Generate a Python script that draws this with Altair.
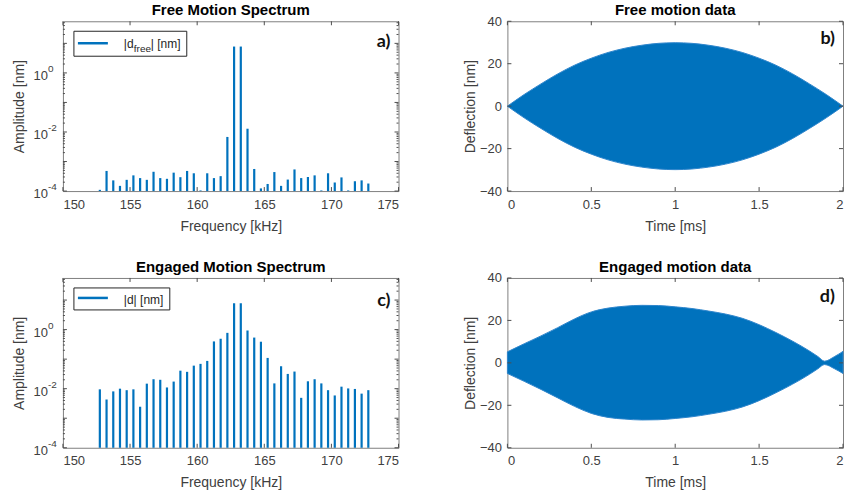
import altair as alt
import pandas as pd

BLUE = "#0072BD"
FONT = "Liberation Sans"
TEXT_GRAY = "#404040"
TICK_GRAY = "#4d4d4d"
W, H = 336, 170

# ---- spectrum data (kHz, nm) ----
freq_khz = [152.75, 153.25, 153.75, 154.25, 154.75, 155.25, 155.75, 156.25, 156.75, 157.25,
            157.75, 158.25, 158.75, 159.25, 159.75, 160.25, 160.75, 161.25, 161.75, 162.25,
            162.75, 163.25, 163.75, 164.25, 164.75, 165.25, 165.75, 166.25, 166.75, 167.25,
            167.75, 168.25, 168.75, 169.25, 169.75, 170.25, 170.75, 171.25, 171.75, 172.25,
            172.75]

free_amp = [1.1e-4, 4.8e-4, 2.3e-4, 1.5e-4, 2.4e-4, 3.4e-4, 2.75e-4, 2.4e-4, 4.5e-4, 2.75e-4,
            2.6e-4, 4.2e-4, 2.95e-4, 4.8e-4, 4.0e-4, 1.05e-4, 4.0e-4, 2.75e-4, 3.2e-4, 6.8e-3,
            7.8, 7.8, 1.29e-2, 5.6e-4, 1.23e-4, 1.74e-4, 4.4e-4, 1.5e-4, 2.45e-4, 5.4e-4,
            2.75e-4, 3.0e-4, 3.4e-4, 1.05e-4, 4.0e-4, 1.95e-4, 2.9e-4, 1.05e-4, 2.15e-4, 2.3e-4,
            1.8e-4]

engaged_amp = [0.0095, 0.0043, 0.0081, 0.0100, 0.0089, 0.0095, 0.00245, 0.0148, 0.0209, 0.0200,
               0.0110, 0.0174, 0.0407, 0.0372, 0.0603, 0.0692, 0.0871, 0.398, 0.490, 0.776,
               7.8, 7.8, 0.933, 0.537, 0.389, 0.110, 0.0151, 0.0575, 0.0316, 0.0380,
               0.0049, 0.0178, 0.0209, 0.0151, 0.0089, 0.0059, 0.0117, 0.0102, 0.0098, 0.0068,
               0.0089]

# ---- time-domain envelopes (ms, nm) ----
free_t = [0.0, 0.1, 0.2, 0.3, 0.4, 0.5, 0.6, 0.7, 0.8, 0.9, 1.0,
          1.1, 1.2, 1.3, 1.4, 1.5, 1.6, 1.7, 1.8, 1.9, 2.0]
free_upper = [0.0, 5.5, 10.5, 15.2, 19.3, 22.6, 25.3, 27.3, 28.7, 29.6, 29.9,
              29.6, 28.7, 27.3, 25.3, 22.6, 19.3, 15.2, 10.5, 5.5, 0.0]
free_lower = [0.0, -5.5, -10.5, -15.2, -19.3, -22.6, -25.3, -27.3, -28.7, -29.6, -29.9,
              -29.6, -28.7, -27.3, -25.3, -22.6, -19.3, -15.2, -10.5, -5.5, 0.0]

eng_t = [0.0, 0.1, 0.2, 0.3, 0.4, 0.5, 0.6, 0.7, 0.8, 0.9, 1.0, 1.1, 1.2,
         1.3, 1.4, 1.5, 1.6, 1.7, 1.8, 1.85, 1.89, 1.95, 2.0]
eng_upper = [5.2, 9.0, 12.7, 16.6, 20.7, 24.0, 25.8, 26.7, 27.1, 27.0, 26.4, 25.6, 24.4,
             23.0, 21.0, 18.0, 14.3, 10.2, 5.6, 3.0, 0.8, 3.0, 5.4]
eng_lower = [-5.0, -8.7, -12.5, -16.5, -20.5, -23.8, -25.7, -26.5, -26.9, -26.8, -26.2, -25.4, -24.2,
             -22.8, -20.8, -17.8, -14.1, -10.0, -5.4, -2.8, -0.8, -2.8, -5.0]

# ---- axis ticks ----
freq_ticks = [150, 155, 160, 165, 170, 175]
amp_label_values = [1e-4, 1e-2, 1.0]
amp_label_exps = ["-4", "-2", "0"]
amp_decades = [1e-4, 1e-3, 1e-2, 1e-1, 1.0, 10.0]
amp_minor = [m * d for d in [1e-4, 1e-3, 1e-2, 1e-1, 1.0, 10.0] for m in range(2, 10)
             if m * d < 56.0]
time_ticks = [0, 0.5, 1, 1.5, 2]
defl_ticks = [-40, -20, 0, 20, 40]

ONE = pd.DataFrame({"k": [0]})


def heading(text):
    # panel heading drawn just above the frame
    return alt.Chart(ONE).mark_text(align="center", baseline="alphabetic", font=FONT,
                                    fontWeight="bold", fontSize=15, color="black").encode(
        x=alt.value(W / 2), y=alt.value(-6), text=alt.value(text))


def tag(letter, y):
    return alt.Chart(ONE).mark_text(align="right", baseline="middle", font="Lato",
                                    fontWeight="bold", fontSize=18, color="#111111").encode(
        x=alt.value(W - 8), y=alt.value(y), text=alt.value(letter))


def x_ticks(values, xenc):
    df = pd.DataFrame({"t": values})
    base = alt.Chart(df).mark_rule(color=TICK_GRAY, strokeWidth=1)
    bottom = base.encode(x=xenc("t:Q"), y=alt.value(H), y2=alt.value(H - 4))
    top = base.encode(x=xenc("t:Q"), y=alt.value(0), y2=alt.value(4))
    return [bottom, top]


def y_ticks(values, yenc, length):
    df = pd.DataFrame({"v": values})
    base = alt.Chart(df).mark_rule(color=TICK_GRAY, strokeWidth=1)
    left = base.encode(y=yenc("v:Q"), x=alt.value(0), x2=alt.value(length))
    right = base.encode(y=yenc("v:Q"), x=alt.value(W - length), x2=alt.value(W))
    return [left, right]


def spectrum_panel(amps, name, legend_parts, box_w, box_h, line_y, letter, letter_y):
    df = pd.DataFrame({"f": freq_khz, "amp": amps})
    xs = alt.Scale(domain=[150, 175], nice=False)
    ys = alt.Scale(type="log", domain=[1e-4, 56.0], nice=False)
    xax = alt.Axis(values=freq_ticks, title="Frequency [kHz]", labelPadding=7,
                   titleX=W / 2, titleY=35, titleBaseline="middle")
    yax = alt.Axis(labels=False, values=amp_label_values, title="Amplitude [nm]",
                   titleX=-43, titleY=H / 2, titleAlign="center", titleBaseline="middle",
                   titleAngle=270)

    def xenc(f):
        return alt.X(f, scale=xs, axis=xax)

    def yenc(f):
        return alt.Y(f, scale=ys, axis=yax)

    bars = alt.Chart(df).mark_rule(color=BLUE, strokeWidth=2.2).encode(
        x=xenc("f:Q"), y=yenc("amp:Q"), y2=alt.datum(1e-4))
    lab_df = pd.DataFrame({"v": amp_label_values, "e": amp_label_exps})
    tens = alt.Chart(lab_df).mark_text(align="right", baseline="middle", dy=3, font=FONT,
                                       fontSize=13, color=TEXT_GRAY).encode(
        x=alt.value(-15), y=yenc("v:Q"), text=alt.value("10"))
    exps = alt.Chart(lab_df).mark_text(align="left", baseline="middle", dy=-4, font=FONT,
                                       fontSize=10, color=TEXT_GRAY).encode(
        x=alt.value(-15), y=yenc("v:Q"), text="e:N")
    box = alt.Chart(ONE).mark_rect(fill="white", stroke="#262626", strokeWidth=1).encode(
        x=alt.value(11), x2=alt.value(11 + box_w), y=alt.value(10), y2=alt.value(10 + box_h))
    sample = alt.Chart(ONE).mark_rule(color=BLUE, strokeWidth=2.5).encode(
        x=alt.value(15), x2=alt.value(45), y=alt.value(line_y))
    texts = []
    for txt, px, py, size in legend_parts:
        texts.append(alt.Chart(ONE).mark_text(align="left", baseline="middle", font=FONT,
                                              fontSize=size, color="#262626").encode(
            x=alt.value(px), y=alt.value(py), text=alt.value(txt)))
    layers = [bars, tens, exps] + x_ticks(freq_ticks, xenc) + y_ticks(amp_decades, yenc, 4) \
        + y_ticks(amp_minor, yenc, 2) + [box, sample] + texts \
        + [tag(letter, letter_y), heading(name)]
    return alt.layer(*layers).properties(width=W, height=H)


def time_panel(t, upper, lower, name, letter, letter_y):
    df = pd.DataFrame({"t": t, "hi": upper, "lo": lower})
    xs = alt.Scale(domain=[0, 2], nice=False)
    ys = alt.Scale(domain=[-40, 40], nice=False)
    xax = alt.Axis(values=time_ticks, labelExpr="'' + datum.value", title="Time [ms]",
                   labelPadding=7, titleX=W / 2, titleY=35, titleBaseline="middle")
    yax = alt.Axis(values=defl_ticks, title="Deflection [nm]", labelPadding=6,
                   titleX=-37, titleY=H / 2, titleAlign="center", titleBaseline="middle",
                   titleAngle=270)

    def xenc(f):
        return alt.X(f, scale=xs, axis=xax)

    def yenc(f):
        return alt.Y(f, scale=ys, axis=yax)

    env = alt.Chart(df).mark_area(color=BLUE, interpolate="monotone", opacity=1,
                                  stroke="#2f86cc", strokeWidth=1).encode(
        x=xenc("t:Q"), y=yenc("hi:Q"), y2="lo:Q")
    layers = [env] + x_ticks(time_ticks, xenc) + y_ticks(defl_ticks, yenc, 4) \
        + [tag(letter, letter_y), heading(name)]
    return alt.layer(*layers).properties(width=W, height=H)


# legend text pieces: (text, x, y, font size)
panel_a = spectrum_panel(
    free_amp, "Free Motion Spectrum",
    [("|d", 61, 23, 12), ("free", 71, 28, 10), ("| [nm]", 88, 23, 12)],
    113, 25, 22, "a)", 21)
panel_c = spectrum_panel(
    engaged_amp, "Engaged Motion Spectrum",
    [("|d| [nm]", 61, 22, 12)],
    96, 22, 20, "c)", 23)
panel_b = time_panel(free_t, free_upper, free_lower, "Free motion data", "b)", 18)
panel_d = time_panel(eng_t, eng_upper, eng_lower, "Engaged motion data", "d)", 19)

chart = alt.concat(panel_a, panel_b, panel_c, panel_d, columns=2, bounds="flush",
                   spacing={"row": 87, "column": 109}).properties(
    padding={"left": 12, "top": 2, "right": 0, "bottom": 2},
    background="white",
).configure_view(
    stroke="#7f7f7f", strokeWidth=1
).configure_axis(
    grid=False, ticks=False, domain=False,
    labelFont=FONT, labelFontSize=13, labelColor=TEXT_GRAY,
    titleFont=FONT, titleFontSize=14, titleFontWeight="normal", titleColor=TEXT_GRAY,
)

chart.save("out.html", embed_options={"renderer": "svg", "actions": False})
